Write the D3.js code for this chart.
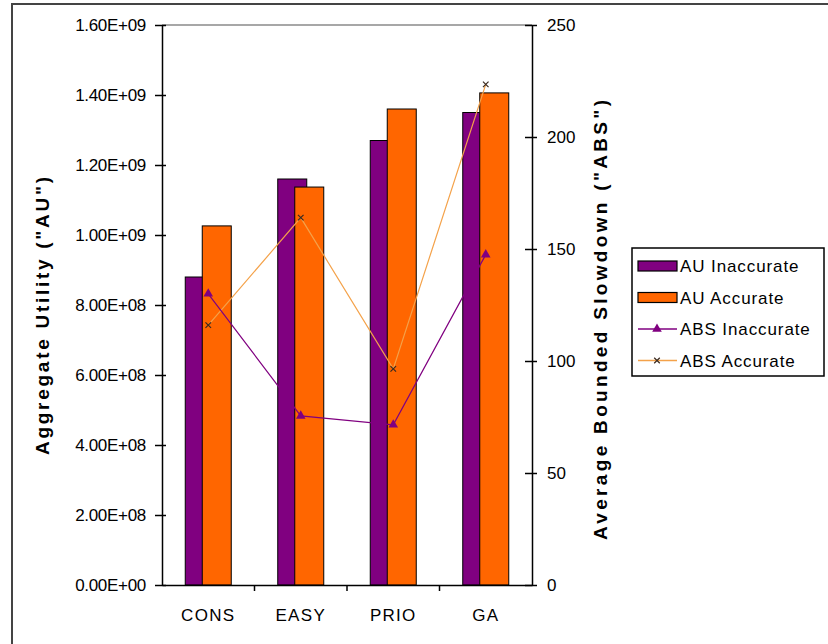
<!DOCTYPE html>
<html>
<head>
<meta charset="utf-8">
<script src="https://cdn.jsdelivr.net/npm/d3@7"></script>
<style>
  body { margin: 0; background: #fff; }
  svg { display: block; font-family: "Liberation Sans", Arial, sans-serif; }
</style>
</head>
<body>
<div id="chart"></div>
<script>
// data
const categories = ["CONS", "EASY", "PRIO", "GA"];
const auInaccurate = [8.8e8, 1.16e9, 1.27e9, 1.35e9];
const auAccurate = [1.026e9, 1.137e9, 1.36e9, 1.406e9];
const absInaccurate = [130, 75.5, 71.5, 147.5];
const absAccurate = [116, 164, 96.5, 223.5];
const leftTicks = [0, 2e8, 4e8, 6e8, 8e8, 1e9, 1.2e9, 1.4e9, 1.6e9];
const rightTicks = [0, 50, 100, 150, 200, 250];

const purple = "#800080", orange = "#ff6600", lineOrange = "#f4a24a";

const width = 828, height = 644;
const margin = {top: 25, right: 296, bottom: 59, left: 162};

const svg = d3.select("#chart").append("svg")
    .attr("width", width)
    .attr("height", height);

// outer chart border (only left and top are visible)
svg.append("rect")
    .attr("x", 12).attr("y", 4)
    .attr("width", 840).attr("height", 660)
    .attr("fill", "none")
    .attr("stroke", "#444")
    .attr("stroke-width", 2);

const x = d3.scaleBand()
    .domain(categories)
    .range([margin.left, width - margin.right]);

const yLeft = d3.scaleLinear()
    .domain([0, 1.6e9])
    .range([height - margin.bottom, margin.top]);

const yRight = d3.scaleLinear()
    .domain([0, 250])
    .range([height - margin.bottom, margin.top]);

// bars inside a group: second bar overlaps the first
const barW = 29, groupW = 46;

function expFmt(d) {
    if (d === 0) return "0.00E+00";
    const e = Math.floor(Math.log10(d));
    const m = d / Math.pow(10, e);
    return m.toFixed(2) + "E+" + String(e).padStart(2, "0");
}

// plot area top border
svg.append("line")
    .attr("x1", margin.left).attr("x2", width - margin.right)
    .attr("y1", margin.top).attr("y2", margin.top)
    .attr("stroke", "#8a8a8a").attr("stroke-width", 1.5);

// bars
const groups = svg.selectAll(".grp")
    .data(categories)
    .enter().append("g")
    .attr("class", "grp")
    .attr("transform", d => `translate(${x(d) + x.bandwidth() / 2 - groupW / 2},0)`);

groups.append("rect")
    .attr("x", 0)
    .attr("y", (d, i) => yLeft(auInaccurate[i]))
    .attr("width", barW)
    .attr("height", (d, i) => yLeft(0) - yLeft(auInaccurate[i]))
    .attr("fill", purple)
    .attr("stroke", "#000").attr("stroke-width", 1);

groups.append("rect")
    .attr("x", groupW - barW)
    .attr("y", (d, i) => yLeft(auAccurate[i]))
    .attr("width", barW)
    .attr("height", (d, i) => yLeft(0) - yLeft(auAccurate[i]))
    .attr("fill", orange)
    .attr("stroke", "#000").attr("stroke-width", 1);

// lines on the right axis
const cx = d => x(d) + x.bandwidth() / 2;
const lineGen = vals => d3.line()
    .x(d => cx(d))
    .y((d, i) => yRight(vals[i]))(categories);

svg.append("path")
    .attr("d", lineGen(absAccurate))
    .attr("fill", "none")
    .attr("stroke", lineOrange).attr("stroke-width", 1.2);

svg.append("path")
    .attr("d", lineGen(absInaccurate))
    .attr("fill", "none")
    .attr("stroke", purple).attr("stroke-width", 1.2);

const tri = d3.symbol().type(d3.symbolTriangle).size(40);
svg.selectAll(".tri")
    .data(categories)
    .enter().append("path")
    .attr("class", "tri")
    .attr("d", tri)
    .attr("transform", (d, i) => `translate(${cx(d)},${yRight(absInaccurate[i])})`)
    .attr("fill", purple);

const cross = d3.symbol().type(d3.symbolX).size(22);
svg.selectAll(".xm")
    .data(categories)
    .enter().append("path")
    .attr("class", "xm")
    .attr("d", cross)
    .attr("transform", (d, i) => `translate(${cx(d)},${yRight(absAccurate[i])})`)
    .attr("fill", "none")
    .attr("stroke", "#3a2a20").attr("stroke-width", 1.2);

// axes
const leftAxis = svg.append("g")
    .attr("transform", `translate(${margin.left},0)`)
    .call(d3.axisLeft(yLeft).tickValues(leftTicks).tickFormat(expFmt).tickSizeInner(7).tickSizeOuter(0).tickPadding(9));

const rightAxis = svg.append("g")
    .attr("transform", `translate(${width - margin.right},0)`)
    .call(d3.axisRight(yRight).tickValues(rightTicks).tickSizeInner(5).tickSizeOuter(0).tickPadding(10));

const bottomAxis = svg.append("g")
    .attr("transform", `translate(0,${height - margin.bottom})`)
    .call(d3.axisBottom(x).tickSize(0).tickPadding(24));

// category boundary ticks
svg.selectAll(".btick")
    .data(categories.slice(1))
    .enter().append("line")
    .attr("class", "btick")
    .attr("x1", d => x(d)).attr("x2", d => x(d))
    .attr("y1", yLeft(0)).attr("y2", yLeft(0) + 6)
    .attr("stroke", "#000").attr("stroke-width", 1.5);

// cross ticks extend inside the plot a bit
leftAxis.selectAll(".tick").append("line").attr("x2", 4).attr("stroke", "#000").attr("stroke-width", 1.5);
rightAxis.selectAll(".tick").append("line").attr("x2", -7).attr("stroke", "#000").attr("stroke-width", 1.5);

[leftAxis, rightAxis, bottomAxis].forEach(a => {
    a.select(".domain").attr("stroke", "#000").attr("stroke-width", 1.5);
    a.selectAll(".tick line").attr("stroke-width", 1.5);
    a.selectAll("text")
        .attr("font-family", "'Liberation Sans', Arial, sans-serif")
        .attr("font-size", 17)
        .attr("fill", "#000");
});
leftAxis.selectAll("text").attr("letter-spacing", -0.3);
bottomAxis.selectAll("text").attr("letter-spacing", 1.3);

// axis titles
svg.append("text")
    .attr("transform", `translate(49,316) rotate(-90)`)
    .attr("text-anchor", "middle")
    .attr("font-size", 19)
    .attr("font-weight", "bold")
    .attr("textLength", 278)
    .attr("lengthAdjust", "spacing")
    .text('Aggregate Utility ("AU")');

svg.append("text")
    .attr("transform", `translate(607,320) rotate(-90)`)
    .attr("text-anchor", "middle")
    .attr("font-size", 19)
    .attr("font-weight", "bold")
    .attr("textLength", 440)
    .attr("lengthAdjust", "spacing")
    .text('Average Bounded Slowdown ("ABS")');

// legend
const legendItems = ["AU Inaccurate", "AU Accurate", "ABS Inaccurate", "ABS Accurate"];
const legend = svg.append("g").attr("transform", "translate(632,248)");
legend.append("rect")
    .attr("width", 192).attr("height", 128)
    .attr("fill", "#fff")
    .attr("stroke", "#000").attr("stroke-width", 1.5);

const rows = legend.selectAll(".lrow")
    .data(legendItems)
    .enter().append("g")
    .attr("class", "lrow")
    .attr("transform", (d, i) => `translate(0,${18 + i * 31.5})`);

rows.append("text")
    .attr("x", 48).attr("y", 6)
    .attr("font-size", 17)
    .attr("letter-spacing", 0.9)
    .text(d => d);

rows.filter((d, i) => i < 2).append("rect")
    .attr("x", 6).attr("y", -5)
    .attr("width", 39).attr("height", 10)
    .attr("fill", (d, i) => i === 0 ? purple : orange)
    .attr("stroke", "#000").attr("stroke-width", 1.2);

rows.filter((d, i) => i >= 2).append("line")
    .attr("x1", 6).attr("x2", 45)
    .attr("stroke", (d, i) => i === 0 ? purple : lineOrange)
    .attr("stroke-width", 1.5);

rows.filter((d, i) => i === 2).append("path")
    .attr("d", tri)
    .attr("transform", "translate(25,0)")
    .attr("fill", purple);

rows.filter((d, i) => i === 3).append("path")
    .attr("d", cross)
    .attr("transform", "translate(25,0)")
    .attr("fill", "none")
    .attr("stroke", "#3a2a20").attr("stroke-width", 1.2);
</script>
</body>
</html>
